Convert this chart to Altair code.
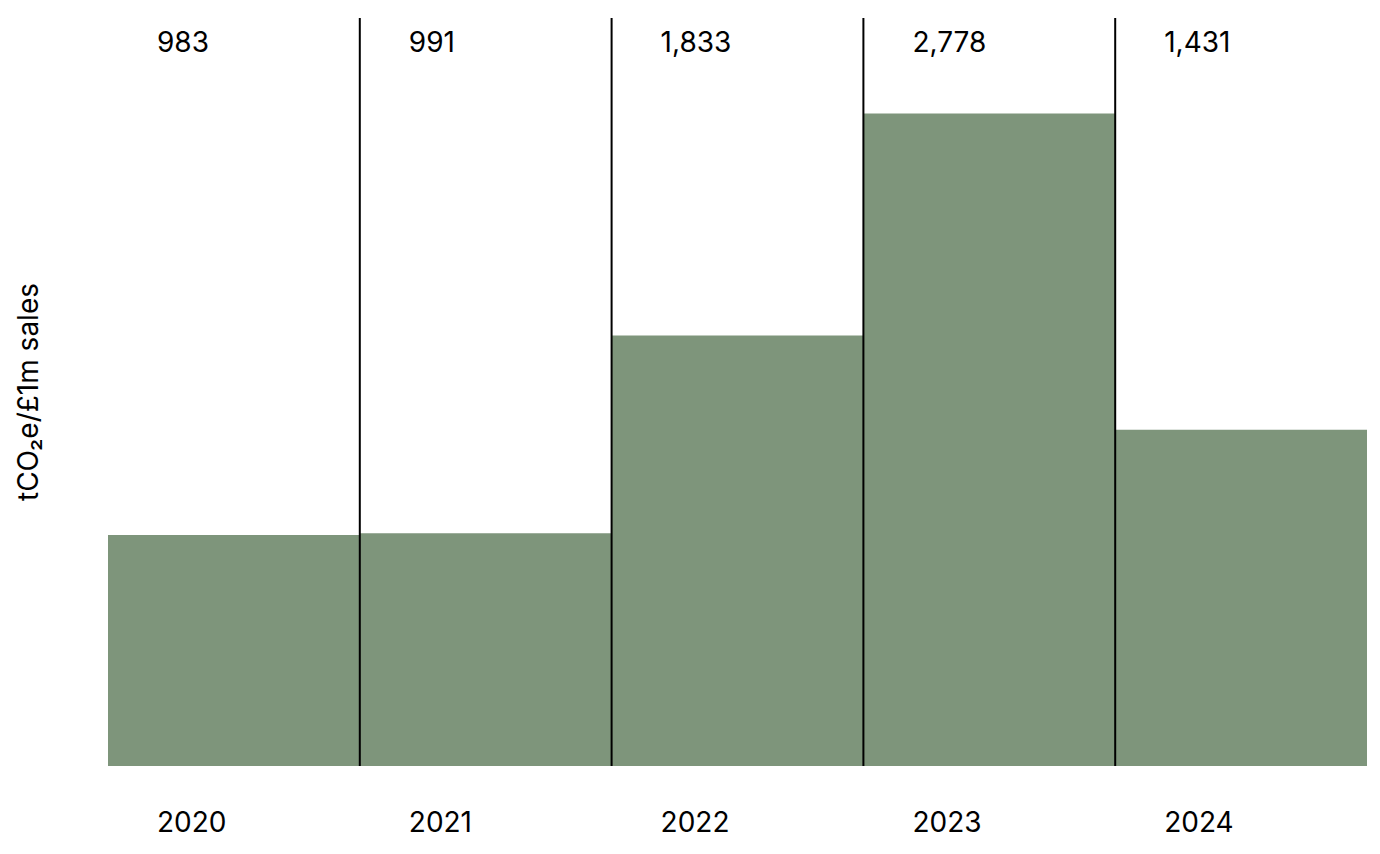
import altair as alt
import pandas as pd

years = ["2020", "2021", "2022", "2023", "2024"]
values = [983, 991, 1833, 2778, 1431]
value_labels = ["983", "991", "1,833", "2,778", "1,431"]
axis_title = "tCO₂e/£1m sales"

df = pd.DataFrame({"year": years, "value": values, "label": value_labels})

W, H = 1259, 748
FONT = "Inter"

xs = alt.Scale(domain=years, paddingInner=0, paddingOuter=0)
ys = alt.Scale(domain=[0, 3184], nice=False, zero=True)

base = alt.Chart(df)

bars = base.mark_bar(color="#7E957B").encode(
    x=alt.X("year:N", scale=xs, axis=None),
    y=alt.Y("value:Q", scale=ys, axis=None),
)

rules = base.transform_filter(alt.datum.year != years[0]).mark_rule(
    color="#000000", strokeWidth=2
).encode(
    x=alt.X("year:N", scale=xs, bandPosition=0),
    y=alt.value(0),
    y2=alt.value(H),
)

top_labels = base.mark_text(
    font=FONT, fontSize=28, align="left", baseline="middle", dx=49, color="#000000"
).encode(
    x=alt.X("year:N", scale=xs, bandPosition=0),
    y=alt.value(26),
    text="label:N",
)

year_labels = base.mark_text(
    font=FONT, fontSize=28, align="left", baseline="middle", dx=49, color="#000000"
).encode(
    x=alt.X("year:N", scale=xs, bandPosition=0),
    y=alt.value(806),
    text="year:N",
)

title = alt.Chart(pd.DataFrame({"t": [axis_title]})).mark_text(
    font=FONT, fontSize=28, angle=270, align="center", baseline="middle", color="#000000"
).encode(
    x=alt.value(-78),
    y=alt.value(H / 2),
    text="t:N",
)

chart = alt.layer(bars, rules, top_labels, year_labels, title).properties(
    width=W,
    height=H,
    padding={"left": 100, "top": 10, "right": 4, "bottom": 80},
    autosize=alt.AutoSizeParams(type="none"),
).configure_view(stroke=None)

chart.save("out.html", embed_options={"renderer": "svg", "actions": False})
